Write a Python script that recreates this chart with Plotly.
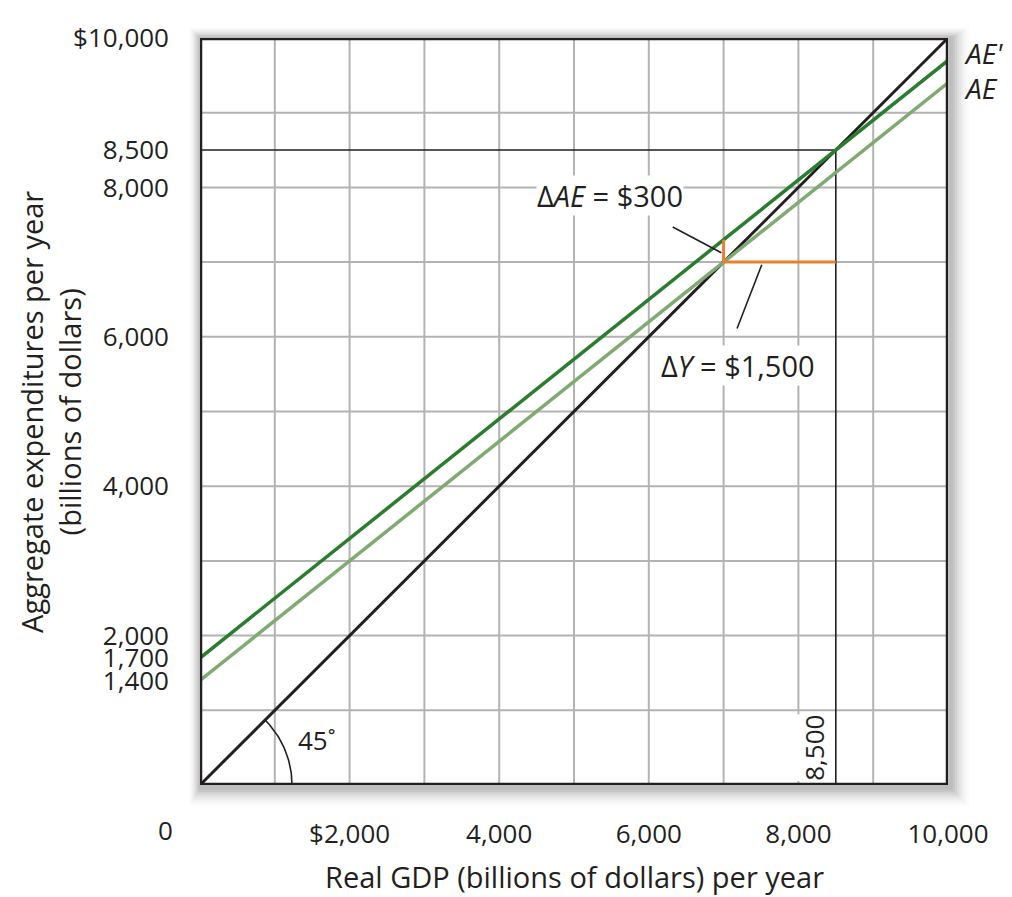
import plotly.graph_objects as go
import numpy as np

# Data
gdp = [0, 10000]
ae = [1400, 9400]
ae_prime = [1700, 9700]
line45 = [0, 10000]
grid_vals = list(range(1000, 10000, 1000))
y_tick_vals = [1400, 1700, 2000, 4000, 6000, 8000, 8500, 10000]
y_tick_text = ["1,400", "1,700", "2,000", "4,000", "6,000", "8,000", "8,500", "$10,000"]
x_tick_vals = [2000, 4000, 6000, 8000, 10000]
x_tick_text = ["$2,000", "4,000", "6,000", "8,000", "10,000"]
eq_y = 8500
delta_ae = [7000, 7300]
delta_y = [7000, 8500]

FONT = "Open Sans"
BLACK = "#231f20"
DARK_GREEN = "#2a7d2e"
LIGHT_GREEN = "#7fab72"
ORANGE = "#e8812f"
GRID = "#b3b3b3"
TICK_SIZE = 26
LABEL_SIZE = 29

fig = go.Figure()

shapes = []
# soft drop shadow behind the plot frame (paper coordinates)
px_x = 1 / 748
px_y = 1 / 747
for i, op in enumerate([0.05, 0.045, 0.04, 0.035, 0.03, 0.025, 0.02, 0.015, 0.01]):
    e = 2 + 2 * i
    shapes.append(dict(type="rect", xref="paper", yref="paper",
                       x0=-e * px_x * 0.6, x1=1 + (e + 3) * px_x,
                       y0=-(e + 3) * px_y, y1=1 + e * px_y * 0.6,
                       line=dict(width=0), fillcolor=f"rgba(0,0,0,{op})", layer="below"))
# white plot face over the shadow
shapes.append(dict(type="rect", xref="paper", yref="paper", x0=0, x1=1, y0=0, y1=1,
                   line=dict(width=0), fillcolor="white", layer="below"))

for g in grid_vals:
    shapes.append(dict(type="line", x0=g, x1=g, y0=0, y1=10000, line=dict(color=GRID, width=2), layer="below"))
    shapes.append(dict(type="line", x0=0, x1=10000, y0=g, y1=g, line=dict(color=GRID, width=2), layer="below"))

# equilibrium guide lines
fig.add_trace(go.Scatter(x=[0, eq_y, eq_y], y=[eq_y, eq_y, 0], mode="lines",
                         line=dict(color=BLACK, width=1.6), hoverinfo="skip"))

# 45 degree line and AE curves
fig.add_trace(go.Scatter(x=gdp, y=line45, mode="lines", line=dict(color=BLACK, width=3)))
fig.add_trace(go.Scatter(x=gdp, y=ae, mode="lines", line=dict(color=LIGHT_GREEN, width=3.5)))
fig.add_trace(go.Scatter(x=gdp, y=ae_prime, mode="lines", line=dict(color=DARK_GREEN, width=3.5)))

# orange changes
fig.add_trace(go.Scatter(x=[delta_ae[0], delta_ae[0]], y=delta_ae, mode="lines",
                         line=dict(color=ORANGE, width=3)))
fig.add_trace(go.Scatter(x=delta_y, y=[delta_ae[0], delta_ae[0]], mode="lines",
                         line=dict(color=ORANGE, width=3)))

# 45 degree arc
r = 1230
t = np.linspace(0, np.pi / 4, 40)
fig.add_trace(go.Scatter(x=r * np.cos(t), y=r * np.sin(t), mode="lines",
                         line=dict(color=BLACK, width=1.6)))

# leader lines
fig.add_trace(go.Scatter(x=[6320, 6970], y=[7470, 7125], mode="lines", line=dict(color=BLACK, width=1.6)))
fig.add_trace(go.Scatter(x=[7510, 7180], y=[6965, 6110], mode="lines", line=dict(color=BLACK, width=1.6)))

# frame
shapes.append(dict(type="rect", x0=0, x1=10000, y0=0, y1=10000,
                   line=dict(color=BLACK, width=4.5), layer="above"))

annotations = [
    dict(x=5480, y=7890, text="Δ<i>AE</i> = $300", showarrow=False, xanchor="center", yanchor="middle",
         bgcolor="white", borderpad=0, font=dict(size=LABEL_SIZE, color=BLACK, family=FONT)),
    dict(x=7190, y=5610, text="Δ<i>Y</i> = $1,500", showarrow=False, xanchor="center", yanchor="middle",
         bgcolor="white", borderpad=0, font=dict(size=LABEL_SIZE, color=BLACK, family=FONT)),
    dict(x=1560, y=600, text="45˚", showarrow=False, xanchor="center", yanchor="middle",
         font=dict(size=TICK_SIZE, color=BLACK, family=FONT)),
    dict(x=eq_y, y=0, text="8,500", textangle=-90, showarrow=False, xanchor="right", yanchor="bottom",
         xshift=-3, yshift=3, bgcolor="white", borderpad=0,
         font=dict(size=TICK_SIZE, color=BLACK, family=FONT)),
    dict(x=10000, y=9700, text="<i>AE'</i>", showarrow=False, xanchor="left", yanchor="middle",
         xshift=14, yshift=7, font=dict(size=28, color=BLACK, family=FONT)),
    dict(x=10000, y=9400, text="<i>AE</i>", showarrow=False, xanchor="left", yanchor="middle",
         xshift=14, yshift=-5, font=dict(size=28, color=BLACK, family=FONT)),
    dict(x=0, y=0, text="0", showarrow=False, xanchor="center", yanchor="middle",
         xshift=-35, yshift=-45, font=dict(size=TICK_SIZE, color=BLACK, family=FONT)),
    dict(xref="paper", yref="paper", x=0.5, y=-0.123, text="Real GDP (billions of dollars) per year",
         showarrow=False, xanchor="center", yanchor="middle", font=dict(size=LABEL_SIZE, color=BLACK, family=FONT)),
    dict(xref="paper", yref="paper", x=-0.2, y=0.5,
         text="Aggregate expenditures per year<br>(billions of dollars)", textangle=-90,
         showarrow=False, xanchor="center", yanchor="middle",
         font=dict(size=LABEL_SIZE, color=BLACK, family=FONT)),
]

fig.update_layout(
    width=1004, height=889,
    margin=dict(l=192, r=64, t=30, b=112),
    paper_bgcolor="white", plot_bgcolor="white",
    showlegend=False,
    shapes=shapes,
    annotations=annotations,
    xaxis=dict(range=[0, 10000], showgrid=False, zeroline=False, showline=False,
               tickvals=x_tick_vals, ticktext=x_tick_text, ticks="",
               ticklabelstandoff=31, automargin=False,
               tickfont=dict(size=TICK_SIZE, color=BLACK, family=FONT)),
    yaxis=dict(range=[0, 10000], showgrid=False, zeroline=False, showline=False,
               tickvals=y_tick_vals, ticktext=y_tick_text, ticks="",
               ticklabelstandoff=30, automargin=False,
               tickfont=dict(size=TICK_SIZE, color=BLACK, family=FONT)),
)

fig.write_html("out.html")
